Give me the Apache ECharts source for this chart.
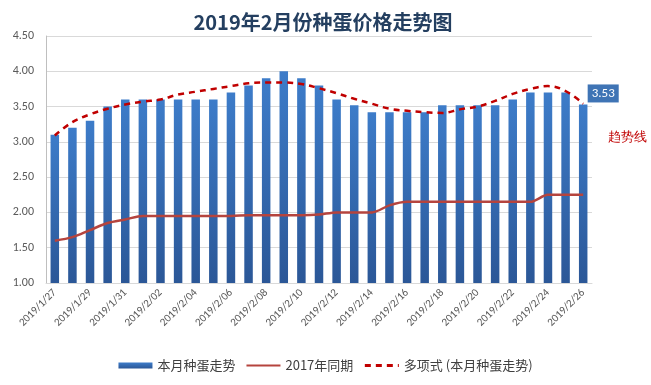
<!DOCTYPE html>
<html>
<head>
<meta charset="utf-8">
<script src="https://cdn.jsdelivr.net/npm/echarts@6/dist/echarts.min.js"></script>
<style>
html,body{margin:0;padding:0;background:#fff;}
#c{width:651px;height:385px;}
</style>
</head>
<body>
<div id="c"></div>
<script>
var categories = ['2019/1/27','2019/1/28','2019/1/29','2019/1/30','2019/1/31',
  '2019/2/01','2019/2/02','2019/2/03','2019/2/04','2019/2/05','2019/2/06','2019/2/07',
  '2019/2/08','2019/2/09','2019/2/10','2019/2/11','2019/2/12','2019/2/13','2019/2/14',
  '2019/2/15','2019/2/16','2019/2/17','2019/2/18','2019/2/19','2019/2/20','2019/2/21',
  '2019/2/22','2019/2/23','2019/2/24','2019/2/25','2019/2/26'];
var thisMonth = [3.10,3.20,3.30,3.50,3.60,3.60,3.60,3.60,3.60,3.60,3.70,3.80,3.90,4.00,3.90,3.80,
  3.60,3.52,3.42,3.42,3.42,3.42,3.52,3.52,3.52,3.52,3.60,3.70,3.70,3.70,3.53];
var lastYear = [1.60,1.65,1.75,1.85,1.90,1.95,1.95,1.95,1.95,1.95,1.95,1.96,1.96,1.96,1.96,1.97,
  2.00,2.00,2.00,2.10,2.15,2.15,2.15,2.15,2.15,2.15,2.15,2.15,2.25,2.25,2.25];
var trend = [3.09,3.28,3.39,3.47,3.53,3.57,3.60,3.67,3.71,3.75,3.79,3.83,3.84,3.84,3.82,3.76,
  3.69,3.61,3.54,3.47,3.44,3.42,3.41,3.46,3.50,3.58,3.68,3.75,3.79,3.72,3.54];
var yTicks = {min:1, max:4.5, interval:0.5};
var names = ['本月种蛋走势','2017年同期','多项式 (本月种蛋走势)'];

var chart = echarts.init(document.getElementById('c'));
var font = 'Calibri, Carlito, "Liberation Sans", "Noto Sans CJK SC", sans-serif';
var barData = thisMonth.map(function(v,i){
  if(i===thisMonth.length-1){
    return {value:v, label:{show:true, position:'top', distance:2, offset:[20,0],
      formatter:function(p){return p.value.toFixed(2);},
      color:'#fff', backgroundColor:'#3f74b5', padding:[3,4,2,4], fontSize:13, fontFamily:font}};
  }
  return v;
});
chart.setOption({
  animation:false,
  title:{text:'2019年2月份种蛋价格走势图', left:318, top:7, textAlign:'center',
    textStyle:{fontSize:20, fontWeight:'bold', color:'#243f60', fontFamily:'"Noto Sans CJK SC", sans-serif'}},
  grid:{left:46, right:59, top:36, bottom:102},
  legend:{bottom:8, left:'center', itemGap:10, itemWidth:34, itemHeight:6,
    textStyle:{fontSize:13, color:'#404040', fontFamily:'"Noto Sans CJK SC", sans-serif'},
    data:[{name:names[0], icon:'rect'},
          {name:names[1], itemStyle:{opacity:0}},
          {name:names[2], itemStyle:{opacity:0}, lineStyle:{type:[6,5], width:3}}]},
  xAxis:{type:'category', data:categories,
    axisLine:{lineStyle:{color:'#d9d9d9'}}, axisTick:{show:false},
    axisLabel:{interval:1, rotate:45, fontSize:11, color:'#595959', margin:8, fontFamily:font}},
  yAxis:{type:'value', min:yTicks.min, max:yTicks.max, interval:yTicks.interval,
    axisLine:{show:true, lineStyle:{color:'#bfbfbf'}}, axisTick:{show:false},
    splitLine:{lineStyle:{color:'#d9d9d9'}},
    axisLabel:{formatter:function(v){return v.toFixed(2);}, fontSize:12, color:'#595959', margin:12, fontFamily:font}},
  series:[
    {name:names[0], type:'bar', data:barData, barWidth:8.5,
      itemStyle:{color:new echarts.graphic.LinearGradient(0,0,0,1,[{offset:0,color:'#3d7cc9'},{offset:1,color:'#2b5797'}])}},
    {name:names[1], type:'line', data:lastYear, smooth:0.3, symbol:'none',
      lineStyle:{color:'#b5443e', width:2.5}, itemStyle:{color:'#b5443e'}},
    {name:names[2], type:'line', data:trend, smooth:0.4, symbol:'none',
      lineStyle:{color:'#c00000', width:2.5, type:[6,5]}, itemStyle:{color:'#c00000'}}
  ],
  graphic:[{type:'text', left:608, top:131, style:{text:'趋势线', fill:'#c00000', fontSize:13, font:'13px "Noto Sans CJK SC", sans-serif'}}]
});
</script>
</body>
</html>
